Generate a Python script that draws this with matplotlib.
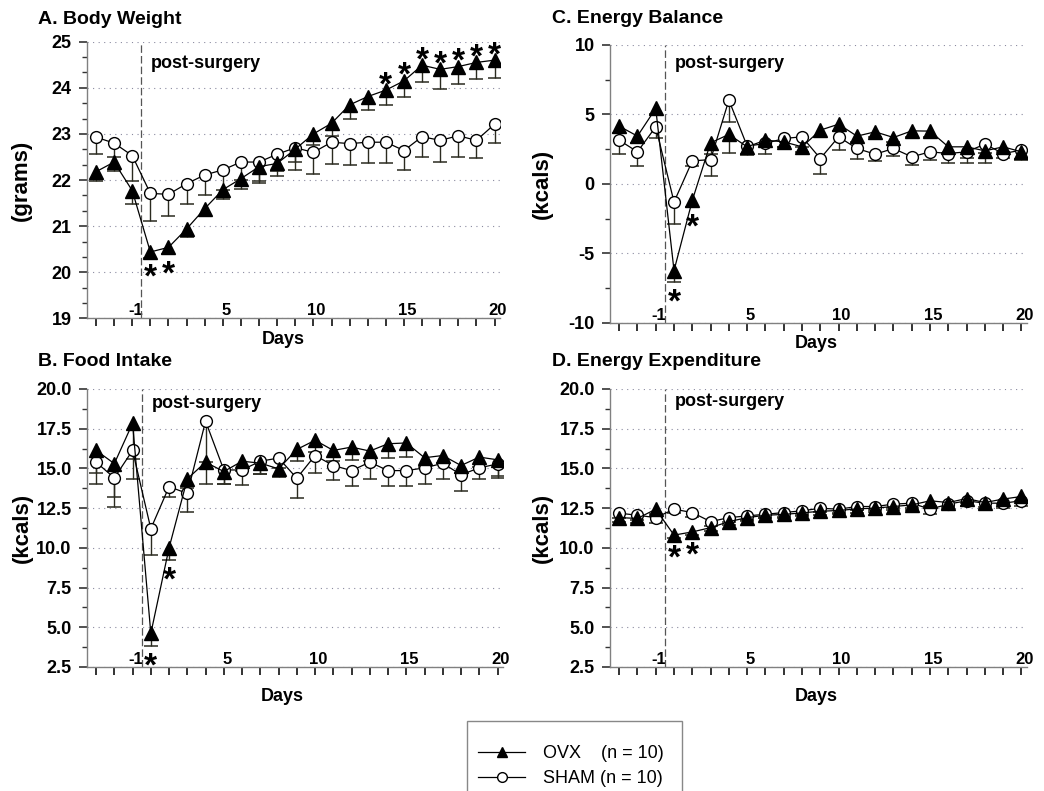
import numpy as np
import matplotlib.pyplot as plt
import matplotlib.transforms as mtransforms
from matplotlib.lines import Line2D
from matplotlib.patches import Rectangle
from matplotlib.ticker import AutoMinorLocator, MultipleLocator, FormatStrFormatter

plt.rcParams['font.family'] = ['Liberation Sans', 'DejaVu Sans']
plt.rcParams['font.weight'] = 'bold'

# x axis: 3 pre-surgery days, then post-surgery days 1..20
days = [-3, -2, -1] + list(range(1, 21))
day_ticks = [-1, 5, 10, 15, 20]

# A. Body Weight (grams)
bw_ovx = [22.18, 22.39, 21.77, 20.44, 20.54, 20.94, 21.38, 21.79, 22.03, 22.29, 22.36, 22.67,
          23.0, 23.23, 23.63, 23.81, 23.95, 24.15, 24.49, 24.4, 24.46, 24.55, 24.6]
bw_ovx_se = [0.2, 0.2, 0.3, 0.12, 0.15, 0.18, 0.17, 0.2, 0.22, 0.35, 0.28, 0.27,
             0.25, 0.27, 0.3, 0.3, 0.33, 0.36, 0.37, 0.42, 0.37, 0.36, 0.38]
bw_sham = [22.93, 22.8, 22.53, 21.71, 21.69, 21.92, 22.11, 22.22, 22.39, 22.39, 22.56, 22.7,
           22.6, 22.82, 22.79, 22.82, 22.82, 22.64, 22.94, 22.86, 22.96, 22.86, 23.21]
bw_sham_se = [0.36, 0.3, 0.56, 0.6, 0.47, 0.45, 0.43, 0.43, 0.38, 0.42, 0.37, 0.48,
              0.46, 0.47, 0.47, 0.44, 0.46, 0.43, 0.43, 0.47, 0.45, 0.38, 0.4]

# B. Food Intake (kcals)
fi_ovx = [16.13, 15.3, 17.84, 4.61, 10.0, 14.34, 15.39, 14.8, 15.45, 15.33, 14.97, 16.19,
          16.77, 16.13, 16.34, 16.09, 16.55, 16.6, 15.67, 15.81, 15.18, 15.71, 15.54]
fi_ovx_se = [1.45, 2.1, 2.28, 0.8, 0.78, 0.6, 1.37, 0.8, 0.6, 0.67, 0.53, 0.7,
             0.74, 0.67, 0.84, 0.6, 0.92, 0.9, 0.6, 0.5, 0.5, 0.6, 1.05]
fi_sham = [15.39, 14.4, 16.13, 11.2, 13.85, 13.42, 17.97, 14.9, 14.9, 15.45, 15.65, 14.38,
           15.81, 15.18, 14.86, 15.39, 14.86, 14.86, 15.03, 15.32, 14.6, 15.03, 15.28]
fi_sham_se = [1.35, 1.85, 1.83, 1.66, 0.68, 1.16, 2.6, 0.9, 0.95, 0.8, 0.6, 1.27,
              1.1, 0.9, 0.96, 1.04, 1.0, 0.96, 1.0, 0.97, 1.0, 0.73, 0.9]

# C. Energy Balance (kcals)
eb_ovx = [4.16, 3.44, 5.43, -6.23, -1.18, 2.96, 3.56, 2.67, 3.15, 3.03, 2.67, 3.87,
          4.3, 3.44, 3.75, 3.34, 3.82, 3.8, 2.67, 2.67, 2.38, 2.67, 2.31]
eb_ovx_se = [0.5, 0.5, 0.4, 0.8, 0.5, 0.8, 1.3, 0.6, 0.4, 0.35, 0.35, 0.5,
             0.5, 0.4, 0.4, 0.3, 0.45, 0.45, 0.45, 0.8, 0.9, 0.4, 0.55]
eb_sham = [3.15, 2.31, 4.11, -1.3, 1.66, 1.75, 6.03, 2.72, 2.91, 3.27, 3.39, 1.83,
           3.39, 2.55, 2.14, 2.55, 1.95, 2.31, 2.19, 2.31, 2.86, 2.19, 2.43]
eb_sham_se = [1.0, 1.0, 0.84, 1.56, 0.4, 1.2, 1.6, 0.58, 0.77, 0.6, 0.72, 1.08,
              0.96, 0.77, 0.5, 0.53, 0.6, 0.6, 0.67, 0.8, 0.6, 0.3, 0.7]

# D. Energy Expenditure (kcals)
ee_ovx = [11.9, 11.85, 12.43, 10.8, 11.0, 11.27, 11.65, 11.9, 12.05, 12.1, 12.2, 12.3,
          12.35, 12.45, 12.5, 12.6, 12.7, 12.96, 12.85, 13.1, 12.85, 13.07, 13.23]
ee_ovx_se = [0.3, 0.3, 0.3, 0.2, 0.2, 0.2, 0.2, 0.2, 0.2, 0.2, 0.2, 0.25,
             0.25, 0.25, 0.25, 0.25, 0.3, 0.3, 0.3, 0.3, 0.3, 0.3, 0.3]
ee_sham = [12.18, 12.05, 11.9, 12.43, 12.22, 11.65, 11.9, 12.01, 12.11, 12.22, 12.33, 12.49,
           12.43, 12.6, 12.6, 12.75, 12.81, 12.43, 12.75, 12.96, 12.81, 12.81, 12.96]
ee_sham_se = [0.3, 0.3, 0.35, 0.25, 0.25, 0.25, 0.25, 0.25, 0.25, 0.25, 0.25, 0.25,
              0.25, 0.25, 0.25, 0.25, 0.3, 0.3, 0.3, 0.3, 0.35, 0.3, 0.35]

# significance (positions of OVX points marked with *)
stars_below = [3, 4]
stars_above_bw = list(range(16, 23))

pos = np.arange(len(days))
ecol = '#2b2b20'

fig = plt.figure(figsize=(10.44, 7.91), dpi=100)


def draw_panel(rect, ovx, ovx_se, sham, sham_se, ylim, ystep, nminor, yfmt,
               title, title_xy, ylabel, ylab_x, xlab_xy, txt_y, above=()):
    ax = fig.add_axes(rect)
    ovx, ovx_se = np.array(ovx), np.array(ovx_se)
    sham, sham_se = np.array(sham), np.array(sham_se)

    ax.axvline(2.5, color='#555555', lw=0.9, ls=(0, (6, 2.5)), zorder=1)

    # one-sided (lower) error bars
    for m, se in [(sham, sham_se), (ovx, ovx_se)]:
        ax.vlines(pos, m - se, m, color=ecol, lw=1.0, zorder=2)
        ax.plot(pos, m - se, ls='none', marker='_', ms=9.5, mew=1.1, color=ecol, zorder=2)
    ax.plot(pos, sham, '-', color='black', lw=0.9, marker='o', ms=8.5,
            mfc='white', mec='black', mew=1.0, zorder=3)
    ax.plot(pos, ovx, '-', color='black', lw=0.9, marker='^', ms=9.5,
            mfc='black', mec='black', zorder=4)

    for p in stars_below:
        ax.annotate('*', xy=(p, ovx[p] - ovx_se[p]), xytext=(0, -4),
                    textcoords='offset points', ha='center', va='top',
                    fontsize=24, fontweight='bold')
    for p in above:
        ax.annotate('*', xy=(p, ovx[p]), xytext=(0, -3),
                    textcoords='offset points', ha='center', va='baseline',
                    fontsize=24, fontweight='bold')

    ax.set_xlim(-0.5, 22.3)
    ax.set_ylim(*ylim)
    ax.yaxis.set_major_locator(MultipleLocator(ystep))
    ax.yaxis.set_minor_locator(AutoMinorLocator(nminor))
    ax.yaxis.set_major_formatter(FormatStrFormatter(yfmt))
    ax.yaxis.grid(True, which='major', ls=(0, (1, 4)), lw=0.8, color='#8a8aa0')
    ax.set_axisbelow(True)

    for s in ['top', 'right']:
        ax.spines[s].set_visible(False)
    for s in ['left', 'bottom']:
        ax.spines[s].set_color('#808080')
        ax.spines[s].set_linewidth(1.0)

    ax.tick_params(axis='y', which='major', length=6, width=1.2, pad=5,
                   labelsize=13, color='#333333')
    ax.tick_params(axis='y', which='minor', length=3.5, width=1.0, color='#333333')

    # day labels sit above the axis line, ticks point down
    ax.set_xticks(pos)
    ax.set_xticklabels([str(d) if d in day_ticks else '' for d in days],
                       fontsize=12, fontweight='bold')
    ax.tick_params(axis='x', length=6, width=1.3, color='#222222', pad=-6)
    shift = mtransforms.ScaledTranslation(3 / 100, 0, fig.dpi_scale_trans)
    for lb in ax.get_xticklabels():
        lb.set_va('bottom')
        lb.set_transform(lb.get_transform() + shift)

    ax.set_xlabel('Days', fontsize=13, fontweight='bold')
    ax.xaxis.set_label_coords(*xlab_xy)
    ax.set_ylabel(ylabel, fontsize=16, fontweight='bold')
    ax.yaxis.set_label_coords(ylab_x, 0.5)

    ax.annotate('post-surgery', xy=(2.5, txt_y), xycoords=('data', 'axes fraction'),
                xytext=(7, 0), textcoords='offset points', ha='left', va='baseline',
                fontsize=13, fontweight='bold')
    fig.text(title_xy[0], title_xy[1], title, fontsize=14, fontweight='bold',
             va='baseline', ha='left')
    return ax


draw_panel([0.0833, 0.5975, 0.3956, 0.3498], bw_ovx, bw_ovx_se, bw_sham, bw_sham_se,
           (19, 25), 1, 3, '%d', 'A. Body Weight', (0.036, 0.9697), '(grams)', -0.133,
           (0.476, -0.045), 0.905, above=stars_above_bw)
draw_panel([0.0833, 0.1568, 0.3985, 0.3515], fi_ovx, fi_ovx_se, fi_sham, fi_sham_se,
           (2.5, 20), 2.5, 2, '%.1f', 'B. Food Intake', (0.036, 0.5373), '(kcals)', -0.13,
           (0.47, -0.075), 0.932)
draw_panel([0.5843, 0.5917, 0.3994, 0.3515], eb_ovx, eb_ovx_se, eb_sham, eb_sham_se,
           (-10, 10), 5, 2, '%d', 'C. Energy Balance', (0.529, 0.971), '(kcals)', -0.137,
           (0.494, -0.043), 0.917)
draw_panel([0.5843, 0.1568, 0.3994, 0.3515], ee_ovx, ee_ovx_se, ee_sham, ee_sham_se,
           (2.5, 20), 2.5, 2, '%.1f', 'D. Energy Expenditure', (0.529, 0.537), '(kcals)', -0.137,
           (0.494, -0.075), 0.939)

# legend (frame runs off the bottom edge as in the original)
handles = [Line2D([], [], color='black', lw=0.9, marker='^', ms=7, mfc='black'),
           Line2D([], [], color='black', lw=0.9, marker='o', ms=7, mfc='white', mec='black')]
labels = ['OVX    (n = 10)', 'SHAM (n = 10)']
fig.legend(handles, labels, loc='upper left', bbox_to_anchor=(0.458, 1 - 745 / 791),
           frameon=False, borderpad=0, borderaxespad=0, handlelength=2.6,
           handletextpad=1.0, labelspacing=0.45, prop={'size': 13, 'weight': 'normal'})
fig.add_artist(Rectangle((0.4473, -0.024), 0.206, 0.1125, transform=fig.transFigure,
                         fill=False, ec='#888888', lw=1.0))

fig.savefig('out.png', dpi=100)
